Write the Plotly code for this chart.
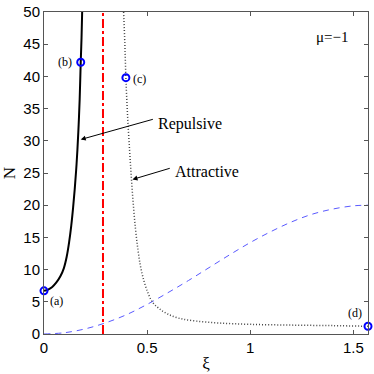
import plotly.graph_objects as go

# data
xi_rep = [0, 0.02, 0.04, 0.06, 0.08, 0.096, 0.11, 0.122, 0.132, 0.141, 0.149, 0.156,
          0.162, 0.168, 0.173, 0.178, 0.182, 0.185]
n_rep = [6.7, 6.9, 7.3, 8.0, 9.0, 10.2, 12.0, 14.3, 16.8, 19.6, 22.5, 25.5,
         28.6, 32.5, 36.5, 42.2, 46, 50]

xi_att = [0.386, 0.392, 0.397, 0.405, 0.415, 0.423, 0.432, 0.443, 0.455, 0.468, 0.485, 0.505,
          0.527, 0.56, 0.60, 0.66, 0.74, 0.85, 1.0, 1.2, 1.4, 1.5708]
n_att = [50, 45, 39.8, 34, 28.5, 24.5, 20.5, 16.5, 13.2, 10.5, 8.2, 6.3,
         4.9, 3.9, 3.1, 2.4, 2.0, 1.7, 1.5, 1.38, 1.3, 1.2]

xi_dash = [0, 0.1, 0.2, 0.3, 0.4, 0.5, 0.6, 0.7, 0.8, 0.9, 1.0, 1.1, 1.2, 1.3, 1.4, 1.5, 1.5708]
n_dash = [0, 0.2, 0.8, 1.75, 3.0, 4.6, 6.4, 8.3, 10.3, 12.3, 14.2, 15.9, 17.4, 18.6, 19.4, 19.9, 20]

xi_crit = [0.286, 0.286]
n_crit = [0, 50]

pt_xi = [0, 0.178, 0.397, 1.5708]
pt_n = [6.7, 42.2, 39.8, 1.2]
pt_labels = ["(a)", "(b)", "(c)", "(d)"]
lab_xi = [0.063, 0.1, 0.465, 1.51]
lab_n = [5.2, 42.3, 39.6, 3.3]

serif = "Liberation Serif"

fig = go.Figure()

fig.add_trace(go.Scatter(x=xi_dash, y=n_dash, mode="lines", line_shape="spline",
                         line=dict(color="rgb(90,90,255)", width=1, dash="6px,5px")))
fig.add_trace(go.Scatter(x=xi_crit, y=n_crit, mode="lines",
                         line=dict(color="red", width=2, dash="dashdot")))
fig.add_trace(go.Scatter(x=xi_att, y=n_att, mode="lines", line_shape="spline",
                         line=dict(color="#444", width=1.5, dash="1px,2px")))
fig.add_trace(go.Scatter(x=xi_rep, y=n_rep, mode="lines", line_shape="spline",
                         line=dict(color="black", width=2)))
fig.add_trace(go.Scatter(x=pt_xi, y=pt_n, mode="markers", cliponaxis=False,
                         marker=dict(symbol="circle-open", size=7, color="blue",
                                     line=dict(color="blue", width=2))))

for t, x, y in zip(pt_labels, lab_xi, lab_n):
    fig.add_annotation(x=x, y=y, text=t, showarrow=False,
                       font=dict(family=serif, size=12, color="black"))

# arrows
fig.add_annotation(x=0.178, y=30.2, ax=0.535, ay=33.4, axref="x", ayref="y", text="",
                   showarrow=True, arrowhead=2, arrowsize=1, arrowwidth=1, arrowcolor="black")
fig.add_annotation(x=0.429, y=24.0, ax=0.617, ay=25.8, axref="x", ayref="y", text="",
                   showarrow=True, arrowhead=2, arrowsize=1, arrowwidth=1, arrowcolor="black")
fig.add_annotation(x=0.545, y=32.65, text="Repulsive", showarrow=False, xanchor="left",
                   font=dict(family=serif, size=16, color="black"))
fig.add_annotation(x=0.627, y=25.2, text="Attractive", showarrow=False, xanchor="left",
                   font=dict(family=serif, size=16, color="black"))
fig.add_annotation(x=1.394, y=46.1, text="μ=−1", showarrow=False,
                   font=dict(family=serif, size=15, color="black"))

fig.update_layout(
    width=374, height=374,
    showlegend=False,
    paper_bgcolor="white", plot_bgcolor="white",
    margin=dict(l=44, r=6, t=12, b=40),
    font=dict(family="Liberation Sans", size=15, color="black"),
)
fig.update_xaxes(range=[0, 1.5708], tickvals=[0, 0.5, 1, 1.5], ticktext=["0", "0.5", "1", "1.5"],
                 automargin=False,
                 showgrid=False, zeroline=False, showline=True, linecolor="#555", linewidth=1,
                 mirror="ticks", ticks="inside", ticklen=4, tickcolor="#555",
                 title=dict(text="ξ", font=dict(family=serif, size=17), standoff=2))
fig.update_yaxes(range=[0, 50], dtick=5, automargin=False,
                 showgrid=False, zeroline=False, showline=True, linecolor="#555", linewidth=1,
                 mirror="ticks", ticks="inside", ticklen=4, tickcolor="#555",
                 title=dict(text="N", font=dict(family=serif, size=17), standoff=4))

# page body has an 8px default margin; drop it so the figure fills the window
fig.write_html("out.html", config={"displayModeBar": False},
               post_script="document.body.style.margin='0';")
